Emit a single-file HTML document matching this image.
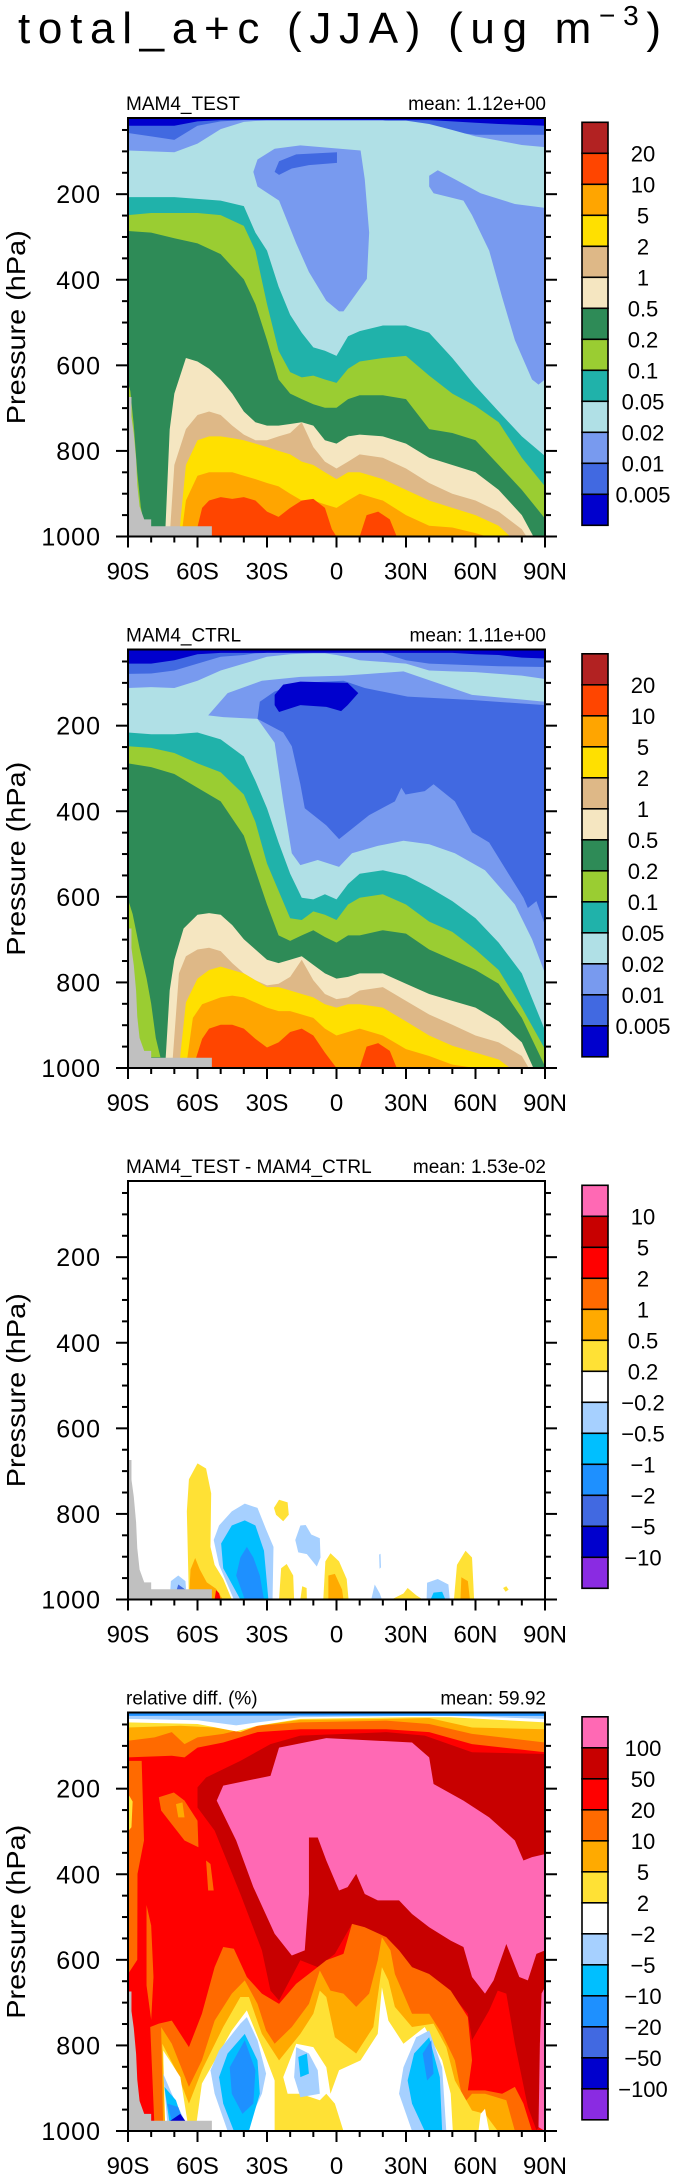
<!DOCTYPE html>
<html><head><meta charset="utf-8"><title>total_a+c (JJA)</title>
<style>
html,body{margin:0;padding:0;background:#fff;}
svg{display:block;font-family:"Liberation Sans",sans-serif;}
</style></head>
<body>
<svg id="root" width="673" height="2175" viewBox="0 0 673 2175" xmlns="http://www.w3.org/2000/svg">
<rect width="673" height="2175" fill="#fff"/>
<text x="18" y="43" font-size="44" textLength="643" lengthAdjust="spacing" fill="#000">total_a+c (JJA) (ug m<tspan dy="-18" font-size="28">−3</tspan><tspan dy="18" font-size="44">)</tspan></text>
</svg>
<script>
// ---------- axes data ----------
const latTicks = [-90,-60,-30,0,30,60,90];
const latTickLabels = ["90S","60S","30S","0","30N","60N","90N"];
const presTicks = [200,400,600,800,1000];
const presTickLabels = ["200","400","600","800","1000"];
const panelTitles = ["MAM4_TEST","MAM4_CTRL","MAM4_TEST - MAM4_CTRL","relative diff. (%)"];
const panelMeans = ["mean: 1.12e+00","mean: 1.11e+00","mean: 1.53e-02","mean: 59.92"];

const absColors = ["#B22222","#FF4500","#FFA500","#FFE000","#DEB887","#F5E6C1","#2E8B57","#9ACD32","#20B2AA","#B0E0E6","#789AEF","#4169E1","#0000CD"];
const absLabels = ["20","10","5","2","1","0.5","0.2","0.1","0.05","0.02","0.01","0.005"];
const diffColors = ["#FF69B4","#C80000","#FF0000","#FF6A00","#FFAA00","#FFE135","#FFFFFF","#A6D0FF","#00BFFF","#1E90FF","#4169E1","#0000CD","#8A2BE2"];
const diffLabels = ["10","5","2","1","0.5","0.2","−0.2","−0.5","−1","−2","−5","−10"];
const relLabels = ["100","50","20","10","5","2","−2","−5","−10","−20","−50","−100"];

// ---------- panel 1 (MAM4_TEST) : top boundary pressure (hPa) of each level ----------
const gridLats = [-90,-80,-70,-60,-50,-40,-35,-30,-25,-20,-15,-10,-5,0,5,10,20,30,40,50,60,70,80,90];
const t_l1 = [40,40,40,30,27,27,27,27,27,27,27,27,27,27,27,27,27,27,27,30,33,36,38,40];
const t_l2 = [57,65,73,40,30,27,27,27,27,27,27,27,27,27,27,27,27,36,45,55,61,61,61,61];
const t_l3 = [98,100,102,82,48,31,29,28,28,28,28,28,28,28,28,28,28,28,36,50,65,75,85,90];
const t_l4 = [207,207,207,211,215,228,290,332,416,482,524,558,566,578,532,520,507,507,524,583,649,708,766,812];
const t_l5 = [249,244,244,244,249,274,332,457,566,616,628,624,633,641,608,591,583,578,624,666,695,733,816,883];
const t_l6 = [286,290,303,315,340,399,457,541,633,666,679,691,699,699,679,670,670,679,749,758,775,833,891,958];
const t_l7Lats = [-74,-72,-70,-65,-60,-55,-50,-45,-40,-35,-30,-25,-20,-15,-10,-5,0,5,10,20,30,40,50,60,70,80,85];
const t_l7 = [1000,750,666,583,591,608,633,666,708,733,741,741,737,733,741,775,783,766,762,766,783,816,833,850,891,950,1000];
const t_l8Lats = [-72,-70,-65,-60,-55,-50,-45,-40,-35,-30,-25,-20,-15,-10,-5,0,5,10,20,30,40,50,60,70,80,82];
const t_l8 = [1000,833,749,716,708,716,741,762,775,775,766,758,733,791,825,841,825,808,816,841,875,900,916,942,983,1000];
const t_l9Lats = [-68,-65,-60,-55,-50,-45,-40,-35,-30,-25,-20,-15,-10,-5,0,5,10,20,30,40,50,60,70,75];
const t_l9 = [1000,833,775,766,766,770,775,783,791,800,808,825,833,850,866,850,850,866,891,916,933,950,975,1000];
const t_l10Lats = [-67,-65,-60,-55,-50,-45,-40,-35,-30,-25,-20,-15,-10,-5,0,5,10,20,30,40,50,60,65];
const t_l10 = [1000,916,858,850,850,850,858,866,875,883,900,916,916,925,933,916,900,916,950,975,979,992,1000];
const t_l11aLats = [-61,-58,-55,-50,-45,-40,-35,-30,-25,-20,-15,-10,-5,-2,0];
const t_l11a = [1000,933,916,908,912,908,916,942,954,933,916,912,933,983,1000];
const t_l11bLats = [10,13,18,23,26];
const t_l11b = [1000,950,942,960,1000];
const t_holeCorn = [[-35.9,148],[-34.1,119],[-26.7,94],[-15.6,86],[10.4,98],[12.2,165],[14.1,290],[13.1,398],[3,474],[1.1,474],[-4.4,449],[-11.9,382],[-17.4,315],[-24.8,215],[-34.1,182]];
const t_holeRoyal = [[-26.7,148],[-24.8,123],[-17.4,107],[0.2,102],[0.2,127],[-11.9,132],[-19.3,140],[-24.8,155]];
const t_holeRight = [[40,157],[43.7,144],[51.1,165],[62.2,198],[77,223],[90,232],[90,633],[87.2,645],[84.4,633],[77,541],[71.5,441],[65.9,332],[58.5,249],[54.8,215],[41.9,198],[40,182]];
const t_strip = [[-90,640],[-89,660],[-87.5,740],[-86,850],[-84.5,930],[-83,975],[-90,975]];

// ---------- panel 2 (MAM4_CTRL) ----------
const c_l1 = [55,55,47,33,30,30,30,30,30,30,30,30,30,30,30,30,30,30,30,30,33,35,41,43];
const c_l2 = [79,78,71,55,39,35,31,30,30,30,30,30,30,30,30,30,30,47,55,57,59,61,62,63];
const c_l3 = [112,110,112,95,71,55,47,39,36,33,32,31,31,35,40,47,51,55,71,73,75,79,83,91];
const c_l4 = [216,220,220,216,232,272,329,393,473,546,602,606,594,606,570,546,538,550,578,610,650,707,779,912];
const c_l5 = [248,252,264,288,309,361,425,522,586,650,654,634,642,654,618,602,594,618,658,682,723,771,859,956];
const c_l6 = [288,297,313,345,377,457,538,618,690,703,690,678,694,707,690,690,678,686,723,747,771,803,883,996];
const c_l7Lats = [-74,-72,-70,-66,-60,-55,-50,-45,-40,-35,-30,-25,-20,-15,-10,-5,0,5,10,20,30,40,50,60,70,80,85];
const c_l7 = [1000,819,747,674,642,638,642,666,699,723,747,755,747,739,759,779,791,787,779,779,803,827,843,859,891,940,1000];
const c_l8Lats = [-71,-68,-65,-60,-55,-50,-45,-40,-35,-30,-25,-20,-15,-10,-5,0,5,10,20,30,40,50,60,70,80,83];
const c_l8 = [1000,779,739,723,719,727,755,779,795,807,803,787,747,795,827,839,835,819,811,843,875,899,924,940,972,1000];
const c_l9Lats = [-68,-65,-60,-55,-50,-45,-40,-35,-30,-25,-20,-15,-10,-5,0,5,10,20,30,40,50,60,70,75];
const c_l9 = [1000,847,791,771,763,771,779,795,811,811,819,827,835,851,859,851,851,859,891,924,948,964,980,1000];
const c_l10Lats = [-65,-62,-58,-50,-45,-40,-35,-30,-25,-20,-15,-10,-5,0,5,10,20,30,40,50,60];
const c_l10 = [1000,883,851,835,831,835,847,859,867,867,875,883,908,924,916,908,924,956,972,992,1000];
const c_l11aLats = [-62,-58,-55,-50,-45,-40,-35,-30,-25,-20,-15,-10,-5,0];
const c_l11a = [1000,932,908,899,899,908,932,952,940,916,908,924,964,1000];
const c_l11bLats = [10,13,18,23,26];
const c_l11b = [1000,950,942,960,1000];
const c_holeCorn = [[-55.4,176],[-47,124],[-32.2,95],[-15.6,86],[3,83],[14.1,79],[28.9,73],[58.5,128],[90,144],[90,779],[84.4,699],[77,618],[64.1,538],[51.1,498],[40,477],[28.9,469],[17.8,481],[6.7,498],[1.1,530],[-8.1,514],[-15.6,526],[-19.3,498],[-23,377],[-26.7,240],[-34.1,184],[-48.9,180]];
const c_holeRoyal = [[-34.1,184],[-33.1,144],[-26.7,120],[-15.6,100],[3,95],[12.2,112],[30.7,132],[58.5,140],[90,152],[90,666],[86.3,610],[82.6,626],[80.7,602],[73.3,538],[65.9,473],[58.5,449],[51.1,377],[41.9,337],[38.1,353],[29.8,361],[28,345],[25.2,377],[14.1,409],[3,457],[1.1,465],[-4.4,433],[-13.7,393],[-15.6,337],[-19.3,248],[-23,216]];
const c_holeDark = [[-26.7,128],[-23,104],[-15.6,97],[4.8,100],[9.4,124],[4.8,152],[2,166],[-4.4,156],[-15.6,152],[-24.8,168],[-26.7,152]];
const c_strip = [[-90,606],[-88,640],[-85,720],[-82,790],[-80,850],[-78,930],[-76,975],[-90,975]];

// ---------- surface mask (all panels) ----------
const maskShape = [[-90,674],[-88.5,674],[-88.5,720],[-87.5,760],[-86.5,820],[-86,880],[-85,930],[-83,960],[-80,960],[-80,976],[-53.8,976],[-53.8,1000],[-90,1000]];

// ---------- panel 3 (difference) blobs ----------
const d_yellowA = [[-63.7,1000],[-64.6,794],[-63.7,719],[-60,682],[-56.3,694],[-54.1,752],[-54.4,877],[-52.6,919],[-48.9,952],[-45.2,1000]];
const d_orangeA = [[-63.7,1000],[-63,930],[-61,903],[-59,930],[-56,960],[-52,975],[-49,1000]];
const d_redA = [[-52.6,1000],[-52,978],[-50.7,985],[-50,1000]];
const d_lbB = [[-44.3,1000],[-50.7,919],[-53,861],[-50.7,827],[-45.2,794],[-39.6,776],[-34.1,786],[-30.4,836],[-27.2,877],[-27.6,1000]];
const d_dsB = [[-41.5,1000],[-48.9,927],[-49.8,869],[-45.2,827],[-39.6,815],[-35,827],[-31.3,886],[-29.4,1000]];
const d_dgB = [[-39.6,1000],[-43.3,944],[-41.5,902],[-38.7,877],[-35.9,902],[-33.1,944],[-31.3,1000]];
const d_yellowC = [[-27,786],[-24.8,767],[-21.1,773],[-20.6,802],[-23,817],[-26.1,802]];
const d_yellowD = [[-24.8,1000],[-23.9,927],[-21.5,917],[-18.7,944],[-18.3,1000]];
const d_lbE = [[-17.8,861],[-15.6,827],[-13.3,826],[-10.9,848],[-7.2,857],[-6.9,902],[-8.5,923],[-12.8,894],[-16.5,890]];
const d_yellowF = [[-5.7,1000],[-4.8,911],[-2.6,892],[1.1,911],[4.4,952],[5.2,1000]];
const d_orangeF = [[-3.5,1000],[-3.5,944],[-0.7,940],[2.4,977],[3,1000]];
const d_yellowG = [[-15.6,1000],[-14.8,969],[-12.9,973],[-12.8,1000]];
const d_lbH = [[15,1000],[16.5,965],[18.7,986],[19.6,1000]];
const d_lbH2 = [[18.4,895],[19,893],[19.2,925],[18.6,928]];
const d_lbI = [[38.9,1000],[39.1,961],[43.7,952],[48.3,965],[48.9,1000]];
const d_dsI = [[40.6,1000],[41.9,984],[45.6,982],[47,1000]];
const d_yellowJ = [[50.7,1000],[52,919],[55.7,886],[58.5,902],[59.4,1000]];
const d_orangeJ = [[53.5,1000],[53.9,948],[56.7,957],[57.6,1000]];
const d_yellowK = [[23.7,1000],[28.9,986],[30.7,973],[34.4,990],[37.2,1000]];
const d_lbL = [[-72,1000],[-71.5,957],[-68.3,944],[-65.2,957],[-64.6,1000]];
const d_royalL = [[-70.2,1000],[-68.3,965],[-65.2,977],[-65.2,1000]];
const d_yellowM = [[71.9,973],[73.3,969],[74.3,977],[73,982]];

// ---------- panel 4 (relative difference) ----------
const r_topOrangeLats = [-90,-71.1,-65.6,-60,-48.9,-34.1,-15.6,21.5,40,58.5,90];
const r_topOrange = [127,123,127,104,92,68,61,61,68,96,115];
const r_topGoldLats = [-90,-78.5,-71.1,-65.6,-60,-48.9,-34.1,-15.6,21.5,40,58.5,90];
const r_topGold = [88,80,68,96,80,72,53,45,41,49,72,92];
const r_topYellowLats = [-90,-67.4,-52.6,-41.5,-34.1,-15.6,21.5,40,58.5,90];
const r_topYellow = [57,53,57,68,53,39,37,35,57,61];
const r_topWhiteLats = [-90,-60,-43.3,-34.1,-15.6,32.6,49.3,90];
const r_topWhite = [45,49,66,53,37,33,33,45];
const r_topLightBlue = [37,40,52,45,33,30,30,37];
const r_topDodgerLats = [-90,0,90];
const r_topDodger = [30,29,30];
const r_darkRed = [[-60,197],[-56.3,174],[-41.5,135],[-28.5,96],[-15.6,76],[21.5,68],[38.1,76],[58.5,115],[90,119],[90,975],[86.3,998],[82.6,944],[77,796],[73.3,679],[69.6,672],[65.9,718],[58.5,788],[56.7,726],[49.3,679],[40,640],[28.9,617],[21.5,570],[12.2,524],[6.7,516],[-0.7,586],[-8.1,617],[-15.6,601],[-24.8,695],[-28.5,672],[-32.2,578],[-41.5,446],[-52.6,298],[-60,244]];
const r_pink = [[-51.7,228],[-48.9,193],[-28.5,170],[-24.8,104],[-4.4,82],[32.6,92],[40,127],[41.9,189],[54.8,228],[65.9,267],[77,321],[80.7,368],[84.4,360],[90,353],[90,578],[86.3,586],[82.6,648],[78.9,640],[73.3,563],[67.8,648],[64.1,679],[58.5,640],[54.8,570],[49.3,555],[40,524],[32.6,493],[27,461],[17.8,461],[12.2,446],[8.5,399],[4.8,430],[1.1,438],[-4.4,368],[-8.1,314],[-11.9,314],[-11.9,446],[-13.7,578],[-19.3,590],[-26.7,539],[-35.9,430],[-43.3,321]];
const r_pinkEdge = [[87.2,991],[87.8,796],[88.5,679],[90,664],[90,1000]];
const r_orangeLow = [[-78.5,1000],[-80.4,757],[-76.7,749],[-71.1,742],[-63.7,804],[-58.1,726],[-52.6,617],[-48.9,570],[-44.3,574],[-38.7,640],[-32.2,679],[-24.8,703],[-17.4,656],[-10,625],[-4.4,601],[3,586],[6.7,516],[12.2,524],[21.5,547],[27,578],[32.6,617],[40,633],[49.3,672],[56.7,734],[58.5,835],[56.7,905],[64.1,905],[71.5,913],[77,897],[80.7,936],[84.4,1000]];
const r_goldLow = [[-74.8,1000],[-75.7,757],[-71.1,796],[-63.7,897],[-58.1,835],[-52.6,742],[-45.2,679],[-39.6,648],[-34.1,703],[-30.4,765],[-26.7,796],[-19.3,757],[-11.9,703],[-7.2,625],[-2.6,672],[3,679],[8.5,710],[14.1,679],[17.8,601],[19.6,547],[23.3,578],[25.2,633],[32.6,726],[40,726],[45.6,773],[51.1,835],[54.8,936],[58.5,913],[64.1,913],[73.3,928],[77,1000]];
const r_yellowLow = [[-73.9,1000],[-75.2,796],[-69.3,858],[-63.7,936],[-58.1,858],[-48.9,757],[-41.5,687],[-37.8,687],[-32.2,773],[-24.8,835],[-15.6,773],[-10,726],[-7.2,672],[-4.4,687],[-0.7,781],[8.5,819],[15.9,757],[19.6,617],[22.4,648],[25.2,710],[32.6,757],[41.9,749],[47.4,804],[51.1,882],[58.5,952],[64.1,960],[69.6,1000]];
const r_whiteA = [[-73.9,1000],[-74.8,812],[-67.4,874],[-63.7,1000]];
const r_whiteB = [[-60.9,1000],[-58.1,889],[-45.2,765],[-38.7,718],[-32.2,804],[-26.7,882],[-26.7,1000]];
const r_whiteC = [[-23,874],[-17.4,796],[-10,804],[-4.4,851],[-2.6,913],[1.1,858],[10.4,835],[17.8,773],[19.6,664],[22.4,742],[28.9,796],[38.1,757],[45.6,835],[49.3,913],[50.2,1000],[3,1000],[-0.7,936],[-4.4,913],[-7.2,928],[-15.6,913],[-21.1,913]];
const r_whiteD = [[61.3,1000],[62.2,960],[64.1,948],[65,975],[65.9,1000]];
const r_lbA = [[-54.4,858],[-50.7,812],[-41.5,749],[-38.7,734],[-34.1,788],[-30.4,866],[-32.2,913],[-39.6,1000],[-47,1000],[-52.6,913]];
const r_lbB = [[-17.4,804],[-11.9,819],[-8.1,858],[-7.2,913],[-15.6,921],[-18.3,874]];
const r_lbC = [[28.9,851],[34.4,781],[40,765],[45.6,851],[47.4,1000],[32.6,1000],[27,913]];
const r_lbD = [[-74.8,866],[-71.1,913],[-65.6,975],[-73,983]];
const r_dsA = [[-50.7,874],[-47,819],[-39.6,773],[-34.1,835],[-33.1,913],[-37.8,1000],[-44.3,1000],[-48.9,936]];
const r_dsB = [[-16.5,827],[-12.8,819],[-11.9,866],[-15.6,874]];
const r_dsC = [[30.7,882],[33.5,819],[40,781],[44.6,874],[45.6,1000],[38.1,1000],[32.6,936]];
const r_dsD = [[-74.3,897],[-69.3,928],[-66.5,975],[-72,983]];
const r_dgA = [[-46.1,851],[-39.6,788],[-35,858],[-35.9,936],[-40.6,960],[-45.2,913]];
const r_dgC = [[37.2,819],[40.9,788],[41.9,866],[39.1,882]];
const r_dgD = [[-73,936],[-68.3,944],[-66.5,971],[-71.1,977]];
const r_mbD = [[-72,977],[-67.4,960],[-65.2,977]];
const r_orangeEdge = [[-90,135],[-84.1,135],[-83.1,321],[-85.9,399],[-86,600],[-90,633]];
const r_yellowEdge = [[-90,212],[-88,230],[-88.5,290],[-90,300]];
const r_orangeBlob1 = [[-76.7,220],[-70.2,209],[-65.6,228],[-60,275],[-59.6,337],[-65.6,321],[-71.1,283],[-75.7,251]];
const r_goldBlob1 = [[-69.3,236],[-66.5,232],[-65.6,267],[-68.3,267]];
const r_orangeBlob2 = [[-56.3,368],[-54.4,376],[-53,438],[-55.4,438]];
const r_orangeBlob3 = [[-82,472],[-80,520],[-79,640],[-80,740],[-82,660]];

// ---------- geometry ----------
const PL = 128, PW = 417, PH = 418.5, PTOP = 22;
const panelTop = [118, 649.5, 1181, 1712.5];
const svg = document.getElementById('root');
const NS = 'http://www.w3.org/2000/svg';
function xL(lat){ return PL + (lat + 90) / 180 * PW; }
function yP(T, p){ return T + (p - PTOP) / (1000 - PTOP) * PH; }
function mk(tag, attrs, parent){
  const e = document.createElementNS(NS, tag);
  for (const k in attrs) e.setAttribute(k, attrs[k]);
  (parent || svg).appendChild(e);
  return e;
}
function polyPath(T, pts){
  return pts.map((q,i)=>(i?'L':'M')+xL(q[0]).toFixed(2)+' '+yP(T,q[1]).toFixed(2)).join(' ')+' Z';
}
function drawPoly(g, T, pts, color, name){
  const e = mk('path', {d: polyPath(T, pts), fill: color}, g);
  
  
}
function drawLayer(g, T, lats, tops, color, name){
  const pts = lats.map((la,i)=>[la, tops[i]]);
  pts.push([lats[lats.length-1], 1000]); pts.push([lats[0], 1000]);
  drawPoly(g, T, pts, color, name);
}
function drawTopBand(g, T, lats, bottoms, color, name){
  const pts = lats.map((la,i)=>[la, bottoms[i]]);
  pts.push([lats[lats.length-1], 0]); pts.push([lats[0], 0]);
  drawPoly(g, T, pts, color, name);
}

function drawPanel(idx, fillFn, colors, labels){
  const T = panelTop[idx];
  const clipId = 'clip' + idx;
  const cp = mk('clipPath', {id: clipId});
  mk('rect', {x: PL, y: T, width: PW, height: PH}, cp);
  const g = mk('g', {'clip-path': 'url(#' + clipId + ')'});
  
  
  fillFn(g, T);
  drawPoly(g, T, maskShape, '#C0C0C0', 'surface-mask');
  const fr = mk('rect', {x: PL, y: T, width: PW, height: PH, fill: 'none', stroke: '#000', 'stroke-width': 2});
  
  
  for (let p = 50; p <= 1000; p += 50){
    const y = yP(T, p);
    const major = (p % 200 === 0);
    const len = major ? 12 : 6;
    const t1 = mk('line', {x1: PL - len, x2: PL, y1: y, y2: y, stroke: '#000', 'stroke-width': 2});
    
    
    const t2 = mk('line', {x1: PL + PW, x2: PL + PW + len, y1: y, y2: y, stroke: '#000', 'stroke-width': 2});
    
    
  }
  presTicks.forEach((p,i)=>{
    const t = mk('text', {x: 101, y: yP(T,p) + 9, 'font-size': 25, 'text-anchor': 'end', 'letter-spacing': '1'});
    t.textContent = presTickLabels[i];
    
    
  });
  for (let la = -90; la <= 90; la += 10){
    const major = (la % 30 === 0);
    const len = major ? 11 : 6;
    const t = mk('line', {x1: xL(la), x2: xL(la), y1: T + PH, y2: T + PH + len, stroke: '#000', 'stroke-width': 2});
    
    
  }
  latTicks.forEach((la,i)=>{
    const t = mk('text', {x: xL(la), y: T + PH + 43, 'font-size': 24, 'text-anchor': 'middle'});
    t.textContent = latTickLabels[i];
    
    
  });
  const yt = mk('text', {x: 0, y: 0, 'font-size': 26, 'text-anchor': 'middle', textLength: 194, lengthAdjust: 'spacingAndGlyphs', transform: 'translate(25,' + (T + PH/2) + ') rotate(-90)'});
  yt.textContent = 'Pressure  (hPa)';
  
  
  const st = mk('text', {x: 126, y: T - 8, 'font-size': 19});
  st.textContent = panelTitles[idx];
  
  
  const mt = mk('text', {x: 546, y: T - 8, 'font-size': 19, 'text-anchor': 'end'});
  mt.textContent = panelMeans[idx];
  
  
  const cbTop = T + 4.3, bh = 31, cx = 582, cw = 26;
  colors.forEach((c,i)=>{
    const r = mk('rect', {x: cx, y: cbTop + i*bh, width: cw, height: bh, fill: c, stroke: '#000', 'stroke-width': 1.6});
    
    
  });
  labels.forEach((l,i)=>{
    const t = mk('text', {x: 643, y: cbTop + (i+1)*bh + 8, 'font-size': 22, 'text-anchor': 'middle'});
    t.textContent = l;
    
    
  });
}

drawPanel(0, (g,T)=>{
  drawPoly(g, T, [[-90,0],[90,0],[90,1000],[-90,1000]], '#0000CD', 'level-below-0.005');
  drawLayer(g, T, gridLats, t_l1, '#4169E1', 'level-0.005');
  drawLayer(g, T, gridLats, t_l2, '#789AEF', 'level-0.01');
  drawLayer(g, T, gridLats, t_l3, '#B0E0E6', 'level-0.02');
  drawPoly(g, T, t_holeCorn, '#789AEF', 'minimum-0.01-tropics');
  drawPoly(g, T, t_holeRoyal, '#4169E1', 'minimum-0.005-tropics');
  drawPoly(g, T, t_holeRight, '#789AEF', 'minimum-0.01-north');
  drawLayer(g, T, gridLats, t_l4, '#20B2AA', 'level-0.05');
  drawLayer(g, T, gridLats, t_l5, '#9ACD32', 'level-0.1');
  drawLayer(g, T, gridLats, t_l6, '#2E8B57', 'level-0.2');
  drawPoly(g, T, t_strip, '#9ACD32', 'antarctic-strip');
  drawLayer(g, T, t_l7Lats, t_l7, '#F5E6C1', 'level-0.5');
  drawLayer(g, T, t_l8Lats, t_l8, '#DEB887', 'level-1');
  drawLayer(g, T, t_l9Lats, t_l9, '#FFE000', 'level-2');
  drawLayer(g, T, t_l10Lats, t_l10, '#FFA500', 'level-5');
  drawLayer(g, T, t_l11aLats, t_l11a, '#FF4500', 'level-10-south');
  drawLayer(g, T, t_l11bLats, t_l11b, '#FF4500', 'level-10-north');
}, absColors, absLabels);

drawPanel(1, (g,T)=>{
  drawPoly(g, T, [[-90,0],[90,0],[90,1000],[-90,1000]], '#0000CD', 'level-below-0.005');
  drawLayer(g, T, gridLats, c_l1, '#4169E1', 'level-0.005');
  drawLayer(g, T, gridLats, c_l2, '#789AEF', 'level-0.01');
  drawLayer(g, T, gridLats, c_l3, '#B0E0E6', 'level-0.02');
  drawPoly(g, T, c_holeCorn, '#789AEF', 'minimum-0.01');
  drawPoly(g, T, c_holeRoyal, '#4169E1', 'minimum-0.005');
  drawPoly(g, T, c_holeDark, '#0000CD', 'minimum-below-0.005');
  drawLayer(g, T, gridLats, c_l4, '#20B2AA', 'level-0.05');
  drawLayer(g, T, gridLats, c_l5, '#9ACD32', 'level-0.1');
  drawLayer(g, T, gridLats, c_l6, '#2E8B57', 'level-0.2');
  drawPoly(g, T, c_strip, '#9ACD32', 'antarctic-strip');
  drawLayer(g, T, c_l7Lats, c_l7, '#F5E6C1', 'level-0.5');
  drawLayer(g, T, c_l8Lats, c_l8, '#DEB887', 'level-1');
  drawLayer(g, T, c_l9Lats, c_l9, '#FFE000', 'level-2');
  drawLayer(g, T, c_l10Lats, c_l10, '#FFA500', 'level-5');
  drawLayer(g, T, c_l11aLats, c_l11a, '#FF4500', 'level-10-south');
  drawLayer(g, T, c_l11bLats, c_l11b, '#FF4500', 'level-10-north');
}, absColors, absLabels);

drawPanel(2, (g,T)=>{
  drawPoly(g, T, [[-90,0],[90,0],[90,1000],[-90,1000]], '#FFFFFF', 'near-zero');
  drawPoly(g, T, d_yellowA, '#FFE135', 'diff-0.2');
  drawPoly(g, T, d_orangeA, '#FFAA00', 'diff-0.5');
  drawPoly(g, T, d_redA, '#FF0000', 'diff-2');
  drawPoly(g, T, d_lbB, '#A6D0FF', 'diff-neg-0.2');
  drawPoly(g, T, d_dsB, '#00BFFF', 'diff-neg-0.5');
  drawPoly(g, T, d_dgB, '#1E90FF', 'diff-neg-1');
  drawPoly(g, T, d_yellowC, '#FFE135', 'diff-0.2');
  drawPoly(g, T, d_yellowD, '#FFE135', 'diff-0.2');
  drawPoly(g, T, d_lbE, '#A6D0FF', 'diff-neg-0.2');
  drawPoly(g, T, d_yellowF, '#FFE135', 'diff-0.2');
  drawPoly(g, T, d_orangeF, '#FFAA00', 'diff-0.5');
  drawPoly(g, T, d_yellowG, '#FFE135', 'diff-0.2');
  drawPoly(g, T, d_lbH, '#A6D0FF', 'diff-neg-0.2');
  drawPoly(g, T, d_lbH2, '#A6D0FF', 'diff-neg-0.2');
  drawPoly(g, T, d_lbI, '#A6D0FF', 'diff-neg-0.2');
  drawPoly(g, T, d_dsI, '#00BFFF', 'diff-neg-0.5');
  drawPoly(g, T, d_yellowJ, '#FFE135', 'diff-0.2');
  drawPoly(g, T, d_orangeJ, '#FFAA00', 'diff-0.5');
  drawPoly(g, T, d_yellowK, '#FFE135', 'diff-0.2');
  drawPoly(g, T, d_lbL, '#A6D0FF', 'diff-neg-0.2');
  drawPoly(g, T, d_royalL, '#4169E1', 'diff-neg-2');
  drawPoly(g, T, d_yellowM, '#FFE135', 'diff-0.2');
}, diffColors, diffLabels);

drawPanel(3, (g,T)=>{
  drawPoly(g, T, [[-90,0],[90,0],[90,1000],[-90,1000]], '#FF0000', 'rel-20');
  drawTopBand(g, T, r_topOrangeLats, r_topOrange, '#FF6A00', 'rel-10-top');
  drawTopBand(g, T, r_topGoldLats, r_topGold, '#FFAA00', 'rel-5-top');
  drawTopBand(g, T, r_topYellowLats, r_topYellow, '#FFE135', 'rel-2-top');
  drawTopBand(g, T, r_topWhiteLats, r_topWhite, '#FFFFFF', 'rel-zero-top');
  drawTopBand(g, T, r_topWhiteLats, r_topLightBlue, '#A6D0FF', 'rel-neg-2-top');
  drawTopBand(g, T, r_topDodgerLats, r_topDodger, '#1E90FF', 'rel-neg-10-top');
  drawPoly(g, T, r_orangeEdge, '#FF6A00', 'rel-10-edge');
  drawPoly(g, T, r_yellowEdge, '#FFE135', 'rel-2-edge');
  drawPoly(g, T, r_orangeBlob1, '#FF6A00', 'rel-10-blob');
  drawPoly(g, T, r_goldBlob1, '#FFAA00', 'rel-5-blob');
  drawPoly(g, T, r_orangeBlob2, '#FF6A00', 'rel-10-blob');
  drawPoly(g, T, r_orangeBlob3, '#FF6A00', 'rel-10-blob');
  drawPoly(g, T, r_darkRed, '#C80000', 'rel-50');
  drawPoly(g, T, r_pink, '#FF69B4', 'rel-100');
  drawPoly(g, T, r_pinkEdge, '#FF69B4', 'rel-100-edge');
  drawPoly(g, T, r_orangeLow, '#FF6A00', 'rel-10-low');
  drawPoly(g, T, r_goldLow, '#FFAA00', 'rel-5-low');
  drawPoly(g, T, r_yellowLow, '#FFE135', 'rel-2-low');
  drawPoly(g, T, r_whiteA, '#FFFFFF', 'rel-zero');
  drawPoly(g, T, r_whiteB, '#FFFFFF', 'rel-zero');
  drawPoly(g, T, r_whiteC, '#FFFFFF', 'rel-zero');
  drawPoly(g, T, r_whiteD, '#FFFFFF', 'rel-zero');
  drawPoly(g, T, r_lbA, '#A6D0FF', 'rel-neg-2');
  drawPoly(g, T, r_lbB, '#A6D0FF', 'rel-neg-2');
  drawPoly(g, T, r_lbC, '#A6D0FF', 'rel-neg-2');
  drawPoly(g, T, r_lbD, '#A6D0FF', 'rel-neg-2');
  drawPoly(g, T, r_dsA, '#00BFFF', 'rel-neg-5');
  drawPoly(g, T, r_dsB, '#00BFFF', 'rel-neg-5');
  drawPoly(g, T, r_dsC, '#00BFFF', 'rel-neg-5');
  drawPoly(g, T, r_dsD, '#00BFFF', 'rel-neg-5');
  drawPoly(g, T, r_dgA, '#1E90FF', 'rel-neg-10');
  drawPoly(g, T, r_dgC, '#1E90FF', 'rel-neg-10');
  drawPoly(g, T, r_dgD, '#1E90FF', 'rel-neg-10');
  drawPoly(g, T, r_mbD, '#0000CD', 'rel-neg-50');
}, diffColors, relLabels);
</script>
</body></html>
